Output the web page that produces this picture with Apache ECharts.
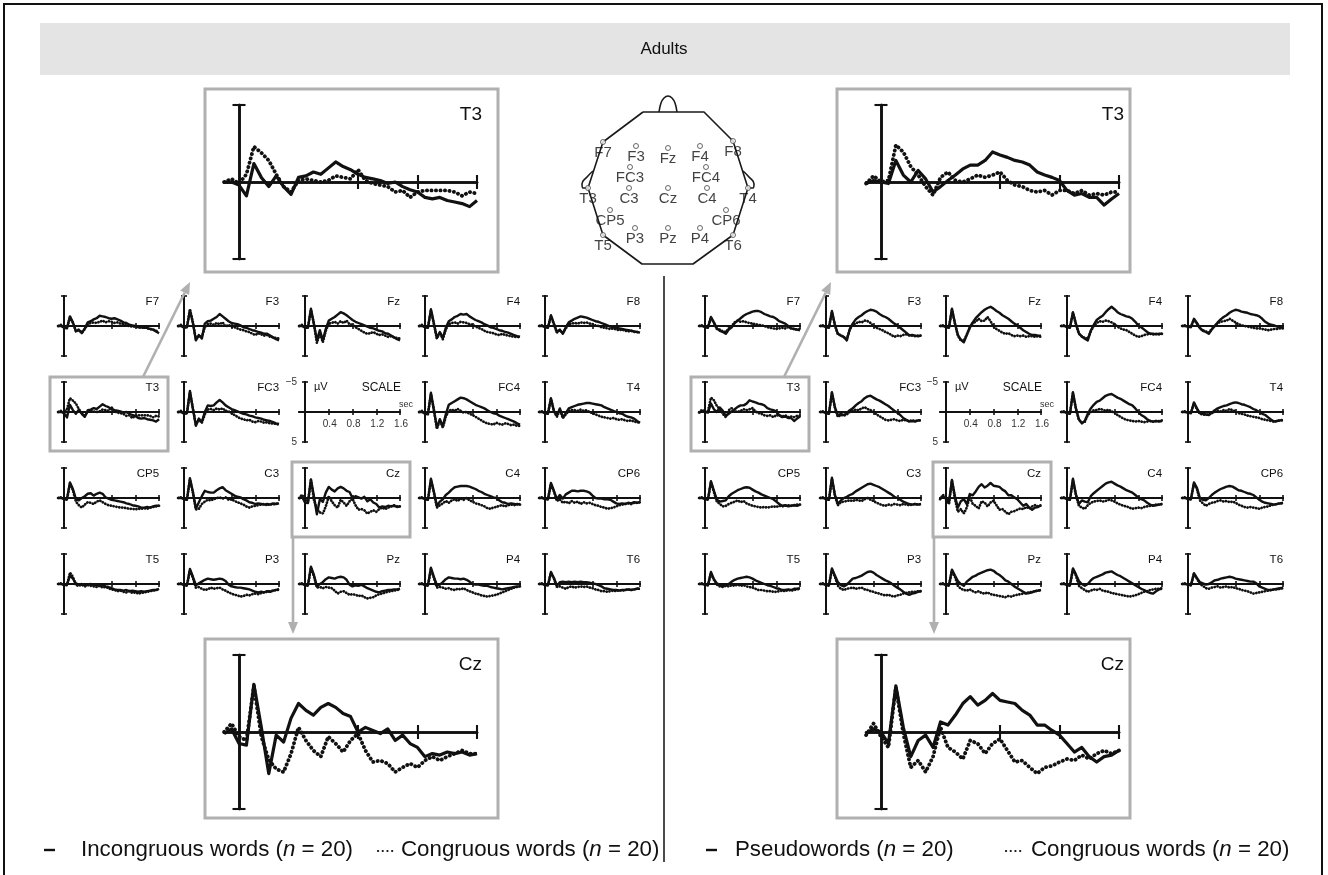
<!DOCTYPE html>
<html><head><meta charset="utf-8">
<script src="https://cdn.jsdelivr.net/npm/echarts@6/dist/echarts.min.js"></script>
<style>html,body{margin:0;padding:0;background:#fff}#c{width:1328px;height:875px}</style>
</head><body><div id="c"></div>
<script>
// ---------- time axis & ticks ----------
const timeSec = [-0.1,-0.05,0,0.05,0.1,0.15,0.2,0.25,0.3,0.35,0.4,0.45,0.5,0.55,0.6,0.65,0.7,0.75,0.8,0.85,0.9,0.95,1.0,1.05,1.1,1.15,1.2,1.25,1.3,1.35,1.4,1.45,1.5,1.55,1.6];
const xTicksData = [0.8,1.2,1.6];
const xTicksScale = [0.4,0.8,1.2,1.6];
const yTicks = [-5,5];
const gridRows = [["F7","F3","Fz","F4","F8"],["T3","FC3","SCALE","FC4","T4"],["CP5","C3","Cz","C4","CP6"],["T5","P3","Pz","P4","T6"]];
const titleText = "Adults";
const legendLeftSolid = "Incongruous words";
const legendLeftDotted = "Congruous words";
const legendRightSolid = "Pseudowords";
const legendRightDotted = "Congruous words";
const nPerGroup = 20;

// ---------- LEFT panel: incongruous (solid) vs congruous (dotted), µV ----------
const incong_F7 = [0,0,0.3,0.4,-1.6,-0.6,0.9,0.7,1.2,0.4,-0.6,-0.8,-1.1,-1.3,-1.7,-1.6,-1.5,-1.3,-1.2,-1.3,-1.1,-0.9,-0.6,-0.5,-0.2,-0.1,0,0.2,0.2,0.3,0.3,0.5,0.6,0.9,1.2];
const congL_F7  = [0,-0.2,0.1,0.3,-1.4,-0.5,0.8,0.6,1.1,0.5,-0.3,-0.5,-0.6,-0.5,-0.7,-0.9,-0.6,-0.8,-0.7,-0.5,-0.6,-0.4,-0.3,-0.1,0,0.1,0.1,0.2,0.3,0.2,0.4,0.5,0.6,0.8,1.0];
const incong_F3 = [0,0,0.3,0.2,-2.6,-0.5,2.4,1.5,2.1,-0.4,-0.8,-0.9,-1.2,-1.5,-2.0,-1.6,-1.2,-0.8,-0.5,-0.4,-0.3,-0.1,0.2,0.3,0.5,0.7,0.8,1.0,1.1,1.3,1.3,1.6,1.9,2.2,2.4];
const congL_F3  = [0,-0.2,0.2,0.1,-2.8,-0.6,2.2,1.6,1.9,0.2,-0.3,-0.4,-0.2,-0.5,-0.3,-0.6,0.1,-0.2,0.1,0.2,0.4,0.6,0.7,0.9,1.0,1.3,1.5,1.2,1.4,1.6,1.5,1.8,1.9,2.0,2.1];
const incong_Fz = [0,0,0.3,0.3,-2.9,-0.3,2.4,0.7,2.4,0.5,-0.9,-1.2,-1.5,-1.9,-2.3,-2.1,-1.8,-1.4,-1.0,-0.7,-0.5,-0.3,-0.1,0.1,0.3,0.4,0.6,0.8,0.9,1.2,1.3,1.6,1.9,2.2,2.4];
const congL_Fz  = [0,-0.2,0.2,0.2,-2.7,-0.4,2.8,1.2,2.7,0.8,-0.4,-0.5,-0.7,-0.4,-0.8,-0.5,-0.9,-0.3,-0.2,0.2,0.5,0.8,1.1,1.3,1.2,1.0,1.3,1.5,1.4,1.6,1.8,1.7,1.9,2.0,2.1];
const incong_F4 = [0,0,0.2,0.3,-2.8,-0.4,2.0,1.0,2.0,0.3,-0.8,-1.1,-1.5,-1.7,-2.0,-1.9,-2.0,-1.6,-1.3,-1.0,-0.8,-0.6,-0.3,-0.1,0.2,0.3,0.5,0.7,0.8,1.0,1.1,1.3,1.5,1.7,1.8];
const congL_F4  = [0,-0.2,0.2,0.2,-2.6,-0.3,2.1,1.1,2.2,0.6,-0.3,-0.5,-0.6,-0.4,-0.7,-0.6,-0.5,-0.3,-0.2,0.1,0.3,0.5,0.8,1.0,1.1,1.2,1.4,1.5,1.3,1.5,1.6,1.7,1.8,1.8,1.9];
const incong_F8 = [0,0,0.2,0.3,-1.8,-0.4,1.0,0.6,1.3,0.2,-0.6,-0.9,-1.2,-1.4,-1.6,-1.5,-1.4,-1.2,-1.0,-0.8,-0.7,-0.5,-0.3,-0.1,0.1,0.2,0.3,0.4,0.5,0.6,0.7,0.8,0.9,1.0,1.1];
const congL_F8  = [0,-0.1,0.1,0.2,-1.6,-0.3,1.1,0.7,1.2,0.4,-0.3,-0.4,-0.5,-0.4,-0.6,-0.5,-0.6,-0.4,-0.3,-0.1,0.0,0.2,0.3,0.4,0.5,0.4,0.6,0.7,0.6,0.8,0.9,0.8,1.0,1.0,1.1];
const incong_T3 = [0,0,0.2,0.9,-1.2,-0.3,0.3,-0.4,0.3,0.8,-0.3,-0.4,-0.65,-0.5,-0.9,-1.3,-1.0,-0.8,-0.5,-0.3,-0.2,-0.1,0.1,0,0.3,0.5,0.65,1.0,1.1,1.0,1.2,1.3,1.4,1.6,1.2];
const congL_T3  = [0,-0.2,0.1,-0.5,-2.3,-1.9,-1.4,-0.5,0.3,0.65,-0.1,-0.2,-0.1,0,-0.1,-0.4,-0.3,-0.2,-0.8,-0.1,0.1,0.2,0.3,0.65,0.55,1.0,0.65,0.55,0.55,0.55,0.55,0.65,0.9,0.65,0.75];
const incong_FC3 = [0,0,0.3,0.2,-3.5,-0.5,2.3,1.1,1.7,0.0,-1.1,-1.0,-1.1,-1.6,-2.0,-1.6,-1.1,-0.8,-0.5,-0.3,-0.1,0.1,0.3,0.4,0.6,0.7,0.9,1.0,1.1,1.3,1.4,1.5,1.7,1.9,2.0];
const congL_FC3  = [0,-0.2,0.2,0.2,-3.3,-0.6,2.1,1.2,1.8,0.4,-0.4,-0.5,-0.3,-0.6,-0.4,-0.6,-0.2,-0.1,0.2,0.5,0.8,1.1,1.2,1.4,1.3,1.6,1.7,1.5,1.6,1.8,1.7,1.9,1.9,2.0,2.1];
const incong_FC4 = [0,0,0.3,0.4,-3.2,-0.3,2.6,1.2,2.4,0.4,-1.2,-1.5,-1.8,-2.1,-2.4,-2.3,-2.1,-1.8,-1.5,-1.2,-1.0,-0.8,-0.6,-0.3,0.0,0.2,0.3,0.6,0.8,1.0,1.2,1.4,1.6,1.9,2.1];
const congL_FC4  = [0,-0.2,0.2,0.3,-3.0,-0.4,2.8,1.4,2.6,0.8,-0.2,-0.4,-0.2,-0.5,-0.2,0.1,0.0,0.3,0.5,0.8,1.1,1.4,1.7,1.9,2.0,2.1,1.8,2.0,2.1,1.9,2.0,2.2,2.1,2.3,2.3];
const incong_T4 = [0,0,0.2,0.3,-2.3,-0.2,0.6,-0.6,0.9,0.2,-0.6,-0.8,-1.0,-1.2,-1.3,-1.4,-1.5,-1.5,-1.4,-1.3,-1.2,-1.1,-0.8,-0.6,-0.4,-0.2,0.0,0.2,0.3,0.6,0.8,0.9,1.1,1.5,1.8];
const congL_T4  = [0,-0.1,0.2,0.2,-2.2,-0.1,0.8,-0.4,1.0,0.4,-0.2,-0.3,-0.3,-0.2,-0.4,-0.2,-0.3,0.0,0.2,0.4,0.6,0.8,0.9,1.0,1.1,1.0,1.2,1.3,1.2,1.4,1.5,1.4,1.6,1.7,1.8];
const incong_CP5 = [0,0,0.2,0.2,-2.6,-1.5,0.2,0.4,0.0,-0.3,-0.7,-0.8,-0.4,-0.7,-0.9,-0.7,-0.1,0.1,0.3,0.4,0.5,0.6,0.7,0.9,1.0,1.2,1.3,1.4,1.6,1.6,1.5,1.6,1.4,1.3,1.3];
const congL_CP5  = [0,-0.1,0.1,0.3,-2.4,-1.3,0.6,1.2,1.6,1.1,0.7,0.8,1.0,0.6,0.4,0.7,1.0,1.2,1.3,1.4,1.5,1.6,1.6,1.7,1.8,1.8,1.9,1.8,1.8,1.7,1.8,1.6,1.5,1.4,1.3];
const incong_C3 = [0,0,0.2,0.3,-3.3,-1.0,1.8,0.7,-0.3,-1.2,-1.0,-0.9,-0.9,-1.3,-1.6,-1.8,-1.3,-1.0,-0.7,-0.4,-0.2,-0.1,0.2,0.4,0.7,0.8,1.0,0.9,1.0,1.1,1.0,1.1,0.9,1.0,0.9];
const congL_C3  = [0,-0.1,0.1,0.3,-3.1,-0.9,1.9,1.8,1.0,0.6,0.3,0.4,0.2,0.0,-0.1,0.1,-0.1,0.3,0.2,0.5,0.7,0.9,1.1,1.4,1.6,1.4,1.3,1.2,1.1,1.0,1.2,1.0,1.1,0.9,1.0];
const incong_Cz = [0.1,-0.2,0.75,0.85,-3.1,-0.3,2.7,0.2,0.65,-0.9,-1.85,-1.4,-1.1,-1.6,-1.85,-1.6,-1.2,-1.0,0,-0.3,-0.1,0.1,-0.2,0.55,0.2,0.75,1.0,1.6,1.4,1.5,1.3,1.4,1.3,1.5,1.4];
const congL_Cz  = [0,-0.55,0.3,0.55,-3.0,0.3,1.8,2.4,2.6,1.4,-0.3,0.55,1.2,1.6,0.3,0.75,1.3,0.55,0.1,1.2,1.95,1.85,2.05,2.6,2.3,2.05,2.3,1.85,1.6,1.85,1.6,1.4,1.2,1.4,1.4];
const incong_C4 = [0,0,0.2,0.3,-3.2,-1.0,1.3,0.6,0.2,-0.5,-0.9,-1.4,-1.8,-1.9,-2.0,-2.0,-2.0,-1.9,-1.7,-1.5,-1.2,-1.0,-0.7,-0.5,-0.3,-0.1,0.0,0.4,0.7,0.8,1.0,0.9,1.0,1.1,1.0];
const congL_C4  = [0,-0.1,0.1,0.3,-3.0,-0.9,1.6,1.2,0.9,0.5,0.8,0.4,0.2,0.5,0.1,0.3,0.0,0.4,0.6,0.9,1.0,1.2,1.4,1.7,1.8,1.6,1.5,1.3,1.2,1.4,1.2,1.1,1.2,1.0,1.1];
const incong_CP6 = [0,0,0.2,0.2,-2.5,-1.2,0.2,-0.5,0.1,-0.6,-0.9,-1.2,-1.2,-1.1,-1.2,-1.2,-1.1,-0.9,-0.4,0.0,0.1,0.1,0.2,0.2,0.3,0.6,0.9,1.0,0.9,1.0,0.8,0.9,0.7,0.8,0.7];
const congL_CP6  = [0,-0.1,0.1,0.2,-2.3,-1.1,0.5,0.2,0.8,0.6,0.9,0.5,0.8,0.6,1.0,0.7,0.9,0.8,1.0,1.2,1.3,1.5,1.6,1.8,1.7,1.6,1.4,1.2,1.1,1.0,0.9,1.0,0.8,0.8,0.7];
const incong_T5 = [0,0,0.2,0.1,-1.4,-0.9,-0.1,0.1,0.0,0.2,0.1,0.0,0.2,0.1,0.3,0.2,0.4,0.5,0.7,0.9,1.0,1.0,1.1,1.0,1.2,1.1,1.2,1.3,1.2,1.3,1.2,1.1,1.0,1.0,0.8];
const congL_T5  = [0,-0.1,0.1,0.2,-1.9,-1.2,0.2,0.3,0.1,0.4,0.2,0.3,0.4,0.5,0.3,0.6,0.5,0.7,0.9,1.0,1.2,1.1,1.3,1.4,1.2,1.5,1.4,1.6,1.5,1.4,1.3,1.2,1.1,1.0,0.9];
const incong_P3 = [0,0,0.2,0.2,-2.5,-1.2,0.2,-0.1,-0.4,-0.7,-0.9,-0.8,-0.7,-0.8,-0.9,-0.8,-0.5,0.1,0.4,0.5,0.6,0.6,0.7,0.8,0.9,1.1,1.3,1.4,1.3,1.4,1.2,1.3,1.1,1.0,0.8];
const congL_P3  = [0,-0.1,0.1,0.3,-2.3,-1.0,0.6,0.5,0.8,1.0,0.9,0.6,0.8,0.7,0.6,0.9,1.1,1.4,1.6,1.8,1.9,2.1,2.0,1.8,1.9,1.7,1.6,1.7,1.5,1.4,1.3,1.2,1.1,1.0,1.0];
const incong_Pz = [0,0,0.2,0.2,-2.9,-1.5,0.4,0.0,-0.3,-0.8,-1.1,-1.0,-0.9,-1.1,-1.2,-1.1,-0.7,0.1,0.4,0.2,0.3,0.1,0.4,0.7,0.9,1.1,1.3,1.4,1.2,1.1,1.0,1.0,0.9,0.9,0.8];
const congL_Pz  = [0,-0.1,0.1,0.3,-2.7,-1.3,0.6,0.5,0.7,0.5,0.6,0.7,1.1,1.6,1.3,1.2,1.5,1.8,1.7,1.8,2.0,1.9,2.2,2.4,2.3,2.2,1.9,1.7,1.6,1.4,1.3,1.2,1.1,1.0,0.9];
const incong_P4 = [0,0,0.2,0.2,-2.7,-1.2,0.2,0.1,-0.3,-0.8,-1.1,-1.0,-0.9,-0.9,-0.8,-0.9,-0.7,-0.4,0.0,0.1,0.1,0.2,0.3,0.3,0.5,0.6,0.7,0.8,0.9,0.8,0.7,0.6,0.5,0.4,0.4];
const congL_P4  = [0,-0.1,0.1,0.3,-2.5,-1.0,0.6,0.5,0.6,0.8,0.7,0.9,1.0,0.8,0.9,0.7,1.0,1.2,1.4,1.6,1.7,1.9,2.0,2.1,2.0,1.9,1.8,1.6,1.4,1.2,1.0,0.8,0.6,0.5,0.4];
const incong_T6 = [0,0,0.2,0.2,-2.0,-1.0,0.3,-0.3,-0.4,-0.3,-0.4,-0.3,-0.4,-0.3,-0.4,-0.3,-0.3,-0.2,-0.1,0.0,0.2,0.4,0.7,0.8,0.9,1.0,1.0,1.1,1.0,1.0,0.9,1.0,0.9,0.8,0.8];
const congL_T6  = [0,-0.1,0.1,0.2,-1.9,-0.9,0.5,0.4,0.6,0.8,0.5,0.4,0.6,0.5,0.4,0.5,0.4,0.6,0.7,0.9,1.0,1.2,1.2,1.3,1.2,1.1,1.2,1.0,1.1,1.0,0.9,1.0,0.9,0.8,0.7];

// ---------- RIGHT panel: pseudowords (solid) vs congruous (dotted), µV ----------
const pseudo_F7 = [0,0,0.2,0.3,-1.5,-0.6,0.4,0.8,1.0,1.3,0.6,0.2,-0.5,-0.9,-1.3,-1.7,-2.0,-2.2,-2.4,-2.5,-2.5,-2.3,-2.0,-1.8,-1.6,-1.5,-1.2,-0.8,-0.6,-0.4,0.0,0.4,0.5,0.6,0.7];
const congR_F7  = [0,-0.1,0.1,0.2,-1.4,-0.5,0.5,0.6,0.9,1.0,0.4,0.0,-0.6,-0.9,-0.7,-0.8,-0.6,-0.5,-0.4,-0.3,-0.2,-0.1,0.0,0.2,0.3,0.4,0.5,0.4,0.3,0.4,0.2,0.4,0.5,0.6,0.5];
const pseudo_F3 = [0,0,0.2,0.3,-2.5,-0.2,1.3,1.6,1.8,2.4,0.5,-0.4,-1.1,-1.5,-1.8,-2.2,-2.5,-2.7,-2.6,-2.4,-2.0,-1.7,-1.5,-1.2,-0.8,-0.4,-0.1,0.3,0.7,1.1,1.6,1.5,1.6,1.7,1.6];
const congR_F3  = [0,-0.1,0.1,0.2,-2.3,-0.1,1.4,1.5,1.9,2.2,0.6,-0.2,-0.4,-0.7,-0.6,-0.9,-0.8,-0.5,0.0,0.3,0.5,0.7,1.0,1.2,1.5,1.8,1.6,1.7,1.5,1.4,1.5,1.6,1.7,1.6,1.6];
const pseudo_Fz = [0,0,0.2,0.3,-2.9,-0.5,1.5,2.3,2.7,1.5,0.2,-0.6,-1.3,-1.8,-2.3,-2.7,-3.0,-3.2,-2.9,-2.5,-2.2,-1.8,-1.5,-1.2,-0.8,-0.4,-0.1,0.3,0.7,1.0,1.3,1.5,1.5,1.6,1.6];
const congR_Fz  = [0,-0.1,0.1,0.2,-2.7,-0.4,1.6,2.4,2.5,1.4,0.3,-0.5,-0.7,-1.2,-0.8,-0.9,-1.5,-0.8,0.1,0.5,0.8,1.1,1.3,1.2,1.5,1.7,1.6,1.7,1.6,1.8,1.7,1.7,1.8,1.7,1.8];
const pseudo_F4 = [0,0,0.2,0.3,-2.3,-0.4,1.2,1.8,2.1,2.4,0.8,-0.2,-1.0,-1.4,-1.7,-2.3,-2.8,-3.2,-2.8,-2.3,-2.0,-1.8,-1.6,-1.5,-1.2,-0.7,-0.1,0.2,0.6,1.0,1.3,1.3,1.4,1.3,1.3];
const congR_F4  = [0,-0.1,0.1,0.2,-2.2,-0.3,1.3,1.7,2.0,2.1,0.9,0.0,-0.5,-0.8,-0.7,-0.9,-0.8,-0.6,-0.3,0.1,0.4,0.6,0.7,1.0,1.3,1.6,1.8,1.7,1.5,1.4,1.3,1.4,1.3,1.4,1.3];
const pseudo_F8 = [0,0,0.1,0.2,-1.2,-0.5,0.3,0.8,1.0,1.3,0.6,0.0,-0.6,-1.1,-1.5,-1.8,-2.2,-2.5,-2.7,-2.6,-2.4,-2.3,-2.2,-2.0,-1.9,-1.8,-1.6,-1.2,-0.7,-0.4,-0.2,-0.1,0.1,0.2,0.2];
const congR_F8  = [0,-0.1,0.1,0.1,-1.1,-0.4,0.4,0.7,0.9,1.1,0.5,0.0,-0.5,-0.7,-0.8,-0.9,-1.2,-0.9,-0.6,-0.3,-0.1,0.0,0.1,0.2,0.3,0.4,0.4,0.5,0.6,0.7,0.6,0.5,0.5,0.4,0.4];
const pseudo_T3 = [0.1,-0.1,0,0.1,-1.4,-0.45,0,-0.75,-0.2,0.65,0.3,-0.1,-0.45,-0.85,-1.1,-1.1,-1.4,-1.95,-1.75,-1.6,-1.4,-1.3,-1.1,-0.65,-0.45,-0.3,-0.1,0.55,0.85,0.75,1.0,1.0,1.5,1.1,0.75];
const congR_T3  = [0.1,-0.4,0,-0.1,-2.4,-1.95,-1.0,-0.45,0.3,0.85,-0.3,-0.65,-0.1,0,-0.2,-0.45,-0.3,-0.45,-0.65,-0.1,0.2,0.3,0.55,0.65,0.55,0.85,0.55,0.55,0.75,0.55,0.85,0.75,0.85,0.65,0.65];
const pseudo_FC3 = [0,0,0.2,0.3,-3.3,-0.8,0.6,0.3,0.5,0.2,-0.3,-0.6,-1.1,-1.5,-1.8,-2.3,-2.6,-2.7,-2.4,-2.1,-1.9,-1.6,-1.3,-1.0,-0.6,-0.2,0.1,0.5,1.0,1.3,1.6,1.5,1.6,1.4,1.4];
const congR_FC3  = [0,-0.1,0.1,0.2,-3.1,-0.7,0.8,0.5,0.6,0.4,0.0,-0.2,-0.4,-0.3,-0.6,-0.8,-0.5,-0.3,0.0,0.4,0.7,1.0,1.3,1.4,1.3,1.2,1.4,1.5,1.3,1.4,1.5,1.4,1.5,1.4,1.4];
const pseudo_FC4 = [0,0,0.2,0.3,-3.3,-0.6,1.2,1.9,1.5,0.3,-0.6,-1.2,-1.7,-1.9,-2.3,-2.7,-2.9,-3.0,-2.7,-2.4,-2.2,-1.9,-1.6,-1.3,-1.1,-0.6,0.0,0.5,0.8,1.2,1.5,1.6,1.5,1.6,1.5];
const congR_FC4  = [0,-0.1,0.1,0.2,-3.1,-0.5,1.3,1.8,1.6,0.5,0.0,-0.3,-0.3,-0.5,-0.4,-0.2,-0.4,-0.1,0.1,0.5,0.8,1.1,1.3,1.4,1.5,1.6,1.5,1.6,1.7,1.6,1.5,1.6,1.5,1.5,1.4];
const pseudo_T4 = [0,0,0.1,0.2,-1.6,-0.6,0.2,0.3,0.4,0.5,0.1,-0.3,-0.6,-0.8,-1.0,-1.1,-1.3,-1.5,-1.6,-1.5,-1.3,-1.2,-1.0,-0.8,-0.5,-0.3,0.0,0.3,0.5,0.9,1.3,1.6,1.5,1.4,1.4];
const congR_T4  = [0,-0.1,0.1,0.1,-1.4,-0.5,0.3,0.4,0.5,0.4,0.2,0.0,-0.2,-0.1,-0.3,-0.2,-0.5,-0.3,-0.1,0.2,0.3,0.4,0.6,0.7,0.8,0.9,1.0,1.2,1.3,1.4,1.5,1.6,1.5,1.4,1.3];
const pseudo_CP5 = [0,0,0.2,0.2,-2.8,-1.2,0.3,0.6,0.5,0.4,-0.3,-0.7,-1.0,-1.3,-1.5,-1.7,-1.8,-1.7,-1.4,-1.1,-0.9,-0.6,-0.4,-0.2,0.0,0.2,0.6,1.0,1.3,1.2,1.4,1.3,1.2,1.3,1.1];
const congR_CP5  = [0,-0.1,0.1,0.3,-2.6,-1.0,0.6,1.0,1.4,1.3,1.0,0.8,0.6,0.4,0.7,0.5,0.9,1.1,1.3,1.4,1.5,1.6,1.5,1.6,1.5,1.4,1.5,1.3,1.4,1.3,1.2,1.3,1.2,1.1,1.1];
const pseudo_C3 = [0,0,0.2,0.3,-3.4,-0.5,1.0,0.4,0.0,-0.2,-0.5,-0.7,-1.1,-1.4,-1.7,-2.0,-2.3,-2.4,-2.2,-2.0,-1.8,-1.5,-1.2,-0.9,-0.6,-0.2,0.0,0.3,0.6,0.8,1.0,1.1,1.0,1.1,1.0];
const congR_C3  = [0,-0.1,0.1,0.3,-3.2,-0.4,1.2,0.7,0.6,0.5,0.4,0.5,0.3,0.4,0.5,0.2,0.0,0.3,0.5,0.8,1.0,1.2,1.3,1.1,1.2,1.0,1.1,1.2,1.0,1.1,1.2,1.1,1.0,1.1,1.0];
const pseudo_Cz = [0.1,-0.2,0,0.75,-3.0,-0.3,1.6,0.55,0.2,1.0,-0.65,-0.45,-1.1,-1.85,-2.3,-1.75,-2.05,-2.5,-2.05,-1.95,-1.85,-1.4,-1.1,-0.45,-0.45,-0.1,0.2,0.75,1.3,1.0,1.6,1.95,1.6,1.5,1.2];
const congR_Cz  = [0.2,-0.55,0.3,1.0,-2.9,0.1,2.3,1.85,2.6,1.6,-0.3,1.0,1.3,1.75,0.55,0.75,1.4,0.75,0.45,1.2,1.95,1.85,2.3,2.7,2.3,2.2,1.95,1.75,1.85,1.5,1.75,1.4,1.2,1.4,1.2];
const pseudo_C4 = [0,0,0.2,0.3,-3.2,-0.6,1.0,0.4,0.6,0.7,-0.3,-0.8,-1.2,-1.6,-2.0,-2.4,-2.6,-2.7,-2.4,-2.1,-1.9,-1.6,-1.3,-1.1,-0.9,-0.5,-0.1,0.2,0.4,0.8,1.1,1.3,1.2,1.1,1.0];
const congR_C4  = [0,-0.1,0.1,0.3,-3.0,-0.5,1.3,1.6,1.8,1.2,0.8,0.6,0.5,0.4,0.6,0.5,0.3,0.4,0.6,0.9,1.1,1.3,1.4,1.6,1.8,1.7,1.6,1.7,1.5,1.4,1.3,1.2,1.1,1.1,1.0];
const pseudo_CP6 = [0,0,0.2,0.2,-2.6,-1.7,0.0,0.3,0.4,0.0,-0.5,-0.9,-1.2,-1.5,-1.7,-1.9,-2.0,-1.9,-1.6,-1.3,-1.2,-1.0,-0.8,-0.7,-0.5,-0.1,0.3,0.6,0.8,0.9,1.0,1.1,1.0,0.9,0.8];
const congR_CP6  = [0,-0.1,0.1,0.2,-2.4,-1.5,0.4,0.9,1.3,1.0,0.8,0.7,0.5,0.4,0.6,0.5,0.7,0.6,0.8,1.1,1.3,1.5,1.6,1.5,1.6,1.7,1.8,1.6,1.5,1.4,1.2,1.1,1.0,0.9,0.9];
const pseudo_T5 = [0,0,0.1,0.2,-2.0,-0.8,-0.1,0.2,0.3,0.2,0.0,-0.4,-0.7,-0.9,-1.0,-1.1,-1.2,-1.1,-0.9,-0.6,-0.4,-0.2,0.0,0.2,0.3,0.5,0.7,0.8,1.0,1.0,0.9,1.0,0.8,0.8,0.7];
const congR_T5  = [0,-0.1,0.1,0.2,-1.8,-0.7,0.1,0.4,0.5,0.3,0.4,0.2,0.3,0.1,0.3,0.2,0.4,0.5,0.6,0.8,1.0,1.0,1.1,1.2,1.2,1.3,1.3,1.2,1.1,1.2,1.0,1.1,1.0,0.9,0.8];
const pseudo_P3 = [0,0,0.2,0.2,-2.6,-1.4,-0.3,0.2,0.4,0.1,-0.4,-0.9,-1.0,-1.2,-1.4,-1.7,-2.0,-2.1,-1.9,-1.5,-1.2,-0.9,-0.6,-0.4,-0.1,0.3,0.6,0.9,1.3,1.6,1.8,1.6,1.5,1.3,1.2];
const congR_P3  = [0,-0.1,0.1,0.3,-2.4,-1.2,0.3,0.8,1.0,0.8,0.7,0.6,0.8,0.7,0.6,0.9,1.0,1.2,1.3,1.5,1.6,1.8,1.9,1.8,2.0,2.1,1.9,1.8,1.6,1.5,1.4,1.3,1.3,1.2,1.2];
const pseudo_Pz = [0,0,0.2,0.2,-2.4,-1.4,-0.5,0.0,0.3,-0.4,-0.8,-1.2,-1.4,-1.7,-1.9,-2.1,-2.3,-2.4,-2.2,-1.8,-1.5,-1.1,-0.6,-0.4,0.0,0.4,0.7,1.0,1.3,1.6,1.5,1.4,1.2,1.1,1.0];
const congR_Pz  = [0,-0.1,0.1,0.3,-2.2,-1.2,0.3,0.8,1.0,1.1,0.9,1.2,1.4,1.2,1.5,1.6,1.4,1.7,1.8,1.9,2.0,2.1,2.2,2.0,2.1,1.9,1.8,1.7,1.6,1.5,1.4,1.3,1.2,1.1,1.0];
const pseudo_P4 = [0,0,0.2,0.2,-2.6,-1.6,-0.5,0.0,0.3,0.0,-0.6,-1.0,-1.2,-1.4,-1.6,-1.9,-2.0,-2.1,-1.8,-1.5,-1.3,-1.0,-0.7,-0.4,-0.1,0.2,0.5,0.8,1.0,1.3,1.5,1.6,1.2,0.9,0.8];
const congR_P4  = [0,-0.1,0.1,0.3,-2.4,-1.4,0.3,0.7,1.0,1.3,1.1,0.9,1.0,0.8,1.1,1.2,1.3,1.5,1.6,1.7,1.8,1.9,2.0,2.1,2.0,1.9,1.7,1.5,1.3,1.2,1.0,0.9,0.8,0.8,0.7];
const pseudo_T6 = [0,0,0.1,0.2,-1.8,-1.0,-0.3,-0.1,0.1,0.0,-0.3,-0.6,-0.7,-0.9,-1.0,-1.1,-1.2,-1.1,-0.9,-0.8,-0.7,-0.6,-0.5,-0.4,-0.4,-0.1,0.4,0.6,0.8,1.0,1.0,0.9,0.8,0.7,0.6];
const congR_T6  = [0,-0.1,0.1,0.2,-1.7,-0.9,0.0,0.3,0.7,0.8,0.6,0.5,0.4,0.6,0.5,0.4,0.6,0.5,0.7,0.8,1.0,1.1,1.2,1.4,1.6,1.5,1.4,1.3,1.2,1.1,1.0,0.9,0.9,0.8,0.7];

// ---------- electrode montage (head map units) ----------
const montageNames = ["F7","F3","Fz","F4","F8","FC3","FC4","T3","C3","Cz","C4","T4","CP5","CP6","P3","Pz","P4","T5","T6"];
const montageX = [23,56,88,120,153,50,126,8,49,88,127,168,30,146,55,88,120,23,153];
const montageY = [52,56,58,56,51,77,77,98,98,98,98,98,120,120,138,138,138,145,145];
const headX = [63,124,153,168,153,113,62,23,8,23,63];
const headY = [22,22,51,98,145,174,174,145,98,52,22];
const noseX = [79,81,84,88,92,95,97];
const noseY = [22,13,8,6,8,13,22];
const earLX = [13,7,2,3,8];
const earLY = [81,87,94,98,98];
const earRX = [163,169,174,173,168];
const earRY = [81,87,94,98,98];

// ---------- build ----------
const solidL = {F7:incong_F7,F3:incong_F3,Fz:incong_Fz,F4:incong_F4,F8:incong_F8,T3:incong_T3,FC3:incong_FC3,FC4:incong_FC4,T4:incong_T4,CP5:incong_CP5,C3:incong_C3,Cz:incong_Cz,C4:incong_C4,CP6:incong_CP6,T5:incong_T5,P3:incong_P3,Pz:incong_Pz,P4:incong_P4,T6:incong_T6};
const dottedL = {F7:congL_F7,F3:congL_F3,Fz:congL_Fz,F4:congL_F4,F8:congL_F8,T3:congL_T3,FC3:congL_FC3,FC4:congL_FC4,T4:congL_T4,CP5:congL_CP5,C3:congL_C3,Cz:congL_Cz,C4:congL_C4,CP6:congL_CP6,T5:congL_T5,P3:congL_P3,Pz:congL_Pz,P4:congL_P4,T6:congL_T6};
const solidR = {F7:pseudo_F7,F3:pseudo_F3,Fz:pseudo_Fz,F4:pseudo_F4,F8:pseudo_F8,T3:pseudo_T3,FC3:pseudo_FC3,FC4:pseudo_FC4,T4:pseudo_T4,CP5:pseudo_CP5,C3:pseudo_C3,Cz:pseudo_Cz,C4:pseudo_C4,CP6:pseudo_CP6,T5:pseudo_T5,P3:pseudo_P3,Pz:pseudo_Pz,P4:pseudo_P4,T6:pseudo_T6};
const dottedR = {F7:congR_F7,F3:congR_F3,Fz:congR_Fz,F4:congR_F4,F8:congR_F8,T3:congR_T3,FC3:congR_FC3,FC4:congR_FC4,T4:congR_T4,CP5:congR_CP5,C3:congR_C3,Cz:congR_Cz,C4:congR_C4,CP6:congR_CP6,T5:congR_T5,P3:congR_P3,Pz:congR_Pz,P4:congR_P4,T6:congR_T6};

const FONT = '"Liberation Sans", Arial, Helvetica, sans-serif';
const INK = '#111';
const BOXC = '#b0b0b0';
const SMALL = {pps:59.4, half:30, axisW:2, tick:3, cap:3, solidW:2.4, dotW:2.7, dash:[0.2,2.7], label:11.5, lx:0, ly:6};
const BIG   = {pps:148.75, half:77, axisW:2.6, tick:7, cap:6.5, solidW:3.2, dotW:3.8, dash:[0.2,4.3], label:19, lx:5, ly:10};

const option = {animation:false, backgroundColor:'#fff', textStyle:{fontFamily:FONT}, grid:[], xAxis:[], yAxis:[], series:[], graphic:{elements:[]}};
const G = option.graphic.elements;

function txt(x, y, text, size, align, extra) {
  G.push({type:'text', x:x, y:y, z:10, style:Object.assign({text:text, fill:INK, fontSize:size, fontFamily:FONT, align:align||'left', verticalAlign:'middle'}, extra||{})});
}

function addPlot(x0, y0, s, name, solid, dotted, isScale) {
  const g = option.grid.length;
  option.grid.push({left: x0 - 0.1*s.pps, top: y0 - s.half, width: 1.7*s.pps, height: 2*s.half});
  const ticks = isScale ? xTicksScale : xTicksData;
  const xi = option.xAxis.length, yi = option.yAxis.length;
  ['bottom','top'].forEach(pos => option.xAxis.push({
    type:'value', gridIndex:g, position:pos, min:-0.1, max:1.6,
    axisLine:{show:true, onZero:true, lineStyle:{color:INK, width:s.axisW}},
    axisTick:{show:true, customValues:ticks, length:s.tick, lineStyle:{color:INK, width:s.axisW*0.8}},
    axisLabel:{show:false}, splitLine:{show:false}
  }));
  ['left','right'].forEach((pos,k) => option.yAxis.push({
    type:'value', gridIndex:g, position:pos, inverse:true, min:-5, max:5,
    axisLine:{show:true, onZero:true, lineStyle:{color:INK, width:s.axisW}},
    axisTick:{show:true, customValues:yTicks, length:s.cap, lineStyle:{color:INK, width:s.axisW*0.8}},
    axisLabel:{show: !!isScale && k===0, customValues:yTicks, margin:2, fontSize:10, color:'#333', fontFamily:FONT, formatter:v=> v<0 ? '\u22125' : '5'},
    splitLine:{show:false}
  }));
  if (isScale) {
    xTicksScale.forEach(v => txt(x0 + v*s.pps + 1, y0 + 12, String(v), 10, 'center', {fill:'#333'}));
    txt(x0 + 1.6*s.pps + 1, y0 - 24, 'SCALE', 12, 'right');
    txt(x0 + 9, y0 - 25, '\u00b5V', 11, 'left');
    txt(x0 + 1.6*s.pps - 1, y0 - 7, 'sec', 9, 'left', {fill:'#333'});
    return;
  }
  option.series.push({type:'line', xAxisIndex:xi, yAxisIndex:yi, silent:true, symbol:'none', z:3,
    data: timeSec.map((t,i)=>[t, solid[i]]), lineStyle:{color:INK, width:s.solidW, join:'round'}});
  option.series.push({type:'line', xAxisIndex:xi, yAxisIndex:yi, silent:true, symbol:'none', z:4,
    data: timeSec.map((t,i)=>[t, dotted[i]]), lineStyle:{color:INK, width:s.dotW, type:s.dash, cap:'round'}});
  txt(x0 + 1.6*s.pps + s.lx, y0 - s.half + s.ly, name, s.label, 'right');
}

function rect(x, y, w, h, stroke, lw, fill) {
  G.push({type:'rect', z:1, shape:{x:x, y:y, width:w, height:h}, style:{fill:fill||'none', stroke:stroke||null, lineWidth:lw||0}});
}
function seg(x1, y1, x2, y2, stroke, lw, dash) {
  const st = {stroke:stroke, lineWidth:lw};
  if (dash) { st.lineDash = dash; st.lineCap = 'round'; }
  G.push({type:'line', z:1, shape:{x1:x1, y1:y1, x2:x2, y2:y2}, style:st});
}
function arrow(x1, y1, x2, y2) {
  const dx = x2-x1, dy = y2-y1, len = Math.hypot(dx,dy), ux = dx/len, uy = dy/len;
  const hl = 12, hw = 5;
  const bx = x2 - ux*hl, by = y2 - uy*hl;
  seg(x1, y1, bx, by, BOXC, 2.6);
  G.push({type:'polygon', z:1, shape:{points:[[x2,y2],[bx - uy*hw, by + ux*hw],[bx + uy*hw, by - ux*hw]]}, style:{fill:BOXC}});
}

// frame, title bar, divider
rect(4, 4, 1318, 890, INK, 2);
rect(40, 23, 1250, 52, null, 0, '#e4e4e4');
txt(664, 49, titleText, 17, 'center');
seg(664, 276, 664, 862, INK, 1.5);

// panels
const panels = [
  {cols:[64,184,305,425,545], solid:solidL, dotted:dottedL, bigX:239, bigBoxX:205, legS:legendLeftSolid, legD:legendLeftDotted, leg:[44,81,378,401]},
  {cols:[705,826,946,1067,1188], solid:solidR, dotted:dottedR, bigX:881, bigBoxX:837, legS:legendRightSolid, legD:legendRightDotted, leg:[706,735,1006,1031]}
];
const rowY = [326,412,498,584];
const LEGFS = 22.3;
const rich = {i:{fontStyle:'italic', fontSize:LEGFS, fontFamily:FONT, fill:INK}};

panels.forEach(p => {
  gridRows.forEach((row, r) => row.forEach((name, c) => {
    if (name === 'SCALE') addPlot(p.cols[c], rowY[r], SMALL, name, null, null, true);
    else addPlot(p.cols[c], rowY[r], SMALL, name, p.solid[name], p.dotted[name], false);
  }));
  const t3x = p.cols[0], czx = p.cols[2];
  rect(t3x - 14, rowY[1] - 35, 118, 74, BOXC, 3);
  rect(czx - 13, rowY[2] - 36, 118, 75, BOXC, 3);
  rect(p.bigBoxX, 89, 293, 183, BOXC, 3);
  rect(p.bigBoxX, 639, 293, 179, BOXC, 3);
  addPlot(p.bigX, 182, BIG, 'T3', p.solid.T3, p.dotted.T3, false);
  addPlot(p.bigX, 732, BIG, 'Cz', p.solid.Cz, p.dotted.Cz, false);
  arrow(t3x + 79, rowY[1] - 35, t3x + 126, 282);
  arrow(czx - 12, rowY[2] + 39, czx - 12, 634);
  // legend
  seg(p.leg[0], 850, p.leg[0] + 11, 850, INK, 2.4);
  txt(p.leg[1], 850, p.legS + ' ({i|n} = ' + nPerGroup + ')', LEGFS, 'left', {rich:rich});
  seg(p.leg[2], 851, p.leg[2] + 15, 851, INK, 2.2, [0.1, 4.6]);
  txt(p.leg[3], 850, p.legD + ' ({i|n} = ' + nPerGroup + ')', LEGFS, 'left', {rich:rich});
});

// montage
const gm = option.grid.length;
option.grid.push({left:580, top:90, width:180, height:180});
const mx = option.xAxis.length, my = option.yAxis.length;
option.xAxis.push({type:'value', gridIndex:gm, min:0, max:180, show:false});
option.yAxis.push({type:'value', gridIndex:gm, min:0, max:180, inverse:true, show:false});
const outline = (xs, ys, smooth) => ({type:'line', xAxisIndex:mx, yAxisIndex:my, silent:true, symbol:'none', smooth:smooth||false,
  data: xs.map((x,i)=>[x, ys[i]]), lineStyle:{color:'#1a1a1a', width:1.6}});
option.series.push(outline(headX, headY));
option.series.push(outline(noseX, noseY, 0.4));
option.series.push(outline(earLX, earLY, 0.5));
option.series.push(outline(earRX, earRY, 0.5));
option.series.push({type:'scatter', xAxisIndex:mx, yAxisIndex:my, silent:true, symbol:'circle', symbolSize:5, z:5,
  data: montageNames.map((n,i)=>({name:n, value:[montageX[i], montageY[i]]})),
  itemStyle:{color:'#fff', borderColor:'#444', borderWidth:1},
  label:{show:true, position:'bottom', distance:0, formatter:'{b}', fontSize:15, color:'#111', fontFamily:FONT}});

const chart = echarts.init(document.getElementById('c'), null, {renderer:'canvas'});
chart.setOption(option);
</script>
</body></html>
